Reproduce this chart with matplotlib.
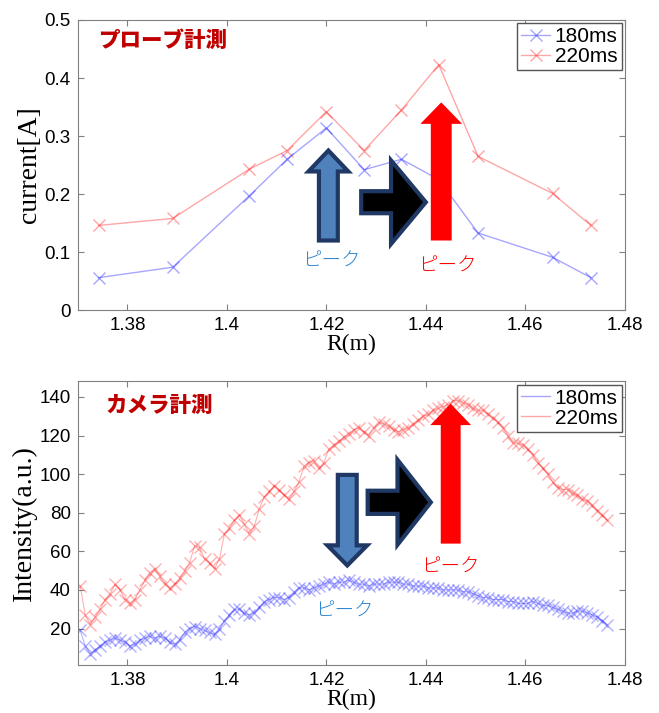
import numpy as np
import matplotlib
matplotlib.use('Agg')
import matplotlib.pyplot as plt
from matplotlib.patches import Polygon

plt.rcParams['font.family'] = ['Liberation Sans', 'DejaVu Sans']

# probe measurement
probe_r = [1.3742, 1.3891, 1.4045, 1.4121, 1.4200, 1.4276, 1.4351, 1.4426, 1.4505, 1.4655, 1.4732]
probe_180 = [0.056, 0.074, 0.197, 0.260, 0.314, 0.242, 0.260, 0.225, 0.133, 0.091, 0.056]
probe_220 = [0.146, 0.158, 0.243, 0.275, 0.342, 0.275, 0.345, 0.423, 0.265, 0.201, 0.146]

# camera measurement
cam_180 = [19, 11, 7, 9, 11, 13, 14, 15, 14, 13,
           11, 12, 14, 15, 16, 15, 16, 15, 13, 12,
           14, 18, 20, 21, 20, 19, 18, 17, 20, 24,
           27, 30, 30, 28, 27, 28, 31, 34, 35, 36,
           36, 35, 36, 39, 41, 41, 40, 41, 42, 43,
           44, 43, 44, 44, 45, 44, 43, 43, 42, 43,
           43, 43, 44, 44, 44, 43, 43, 42, 42, 42,
           41, 41, 41, 40, 40, 40, 40, 39, 39, 38,
           37, 36, 36, 35, 35, 35, 34, 34, 33, 33,
           33, 34, 33, 32, 32, 31, 30, 29, 28, 28,
           29, 29, 28, 27, 26, 24, 22]
cam_220 = [42, 27, 22, 26, 30, 35, 38, 43, 40, 35,
           33, 35, 40, 45, 49, 51, 47, 43, 41, 43,
           46, 50, 54, 63, 62, 56, 54, 51, 56, 69,
           72, 76, 79, 74, 69, 73, 82, 88, 91, 94,
           92, 89, 87, 91, 96, 104, 106, 107, 103, 106,
           113, 115, 117, 119, 121, 123, 124, 122, 120, 124,
           127, 126, 125, 123, 122, 123, 124, 126, 128, 130,
           131, 133, 134, 135, 136, 138, 138, 137, 136, 134,
           133, 133, 131, 129, 127, 124, 120, 116, 116, 115,
           113, 110, 106, 103, 100, 96, 93, 92, 92, 90,
           89, 87, 86, 84, 81, 79, 76]
cam_r = np.linspace(1.3705, 1.4765, len(cam_180))

series_labels = ['180ms', '220ms']
navy = '#1F3864'


def vertical_arrow(ax, xc, y_tail, y_head, y_tip, shaft_hw, head_hw, **kw):
    pts = [(xc - shaft_hw, y_tail), (xc - shaft_hw, y_head), (xc - head_hw, y_head),
           (xc, y_tip), (xc + head_hw, y_head), (xc + shaft_hw, y_head),
           (xc + shaft_hw, y_tail)]
    ax.add_patch(Polygon(pts, closed=True, zorder=5, **kw))


def right_arrow(ax, x_tail, x_head, x_tip, yc, shaft_hh, head_hh, **kw):
    pts = [(x_tail, yc - shaft_hh), (x_head, yc - shaft_hh), (x_head, yc - head_hh),
           (x_tip, yc), (x_head, yc + head_hh), (x_head, yc + shaft_hh),
           (x_tail, yc + shaft_hh)]
    ax.add_patch(Polygon(pts, closed=True, zorder=5, **kw))


def style_axes(ax):
    for s in ax.spines.values():
        s.set_color('#808080')
    ax.tick_params(direction='in', length=4, color='#808080', labelsize=13.5,
                   top=True, right=True, pad=5)
    ax.set_xlim(1.37, 1.48)
    ax.set_xticks([1.38, 1.40, 1.42, 1.44, 1.46, 1.48])
    ax.set_xticklabels(['1.38', '1.4', '1.42', '1.44', '1.46', '1.48'])
    ax.set_xlabel('R(m)', family='Liberation Serif', fontsize=17, labelpad=0)


def add_legend(ax, handles=None):
    kw = dict(loc='upper right', fontsize=15, fancybox=False, framealpha=1,
              edgecolor='#555555', borderaxespad=0.15, handlelength=1.4,
              handletextpad=0.2, borderpad=0.2, labelspacing=0.05)
    if handles is None:
        ax.legend(**kw)
    else:
        ax.legend(handles, series_labels, **kw)


fig = plt.figure(figsize=(6.59, 7.13), dpi=100)

# ---- top: probe
ax1 = fig.add_axes([0.118, 0.565, 0.830, 0.407])
ax1.plot(probe_r, probe_180, color='blue', alpha=0.35, marker='x', markersize=8, lw=1,
         label=series_labels[0])
ax1.plot(probe_r, probe_220, color='red', alpha=0.35, marker='x', markersize=8, lw=1,
         label=series_labels[1])
style_axes(ax1)
ax1.set_ylim(0, 0.5)
ax1.set_yticks([0, 0.1, 0.2, 0.3, 0.4, 0.5])
ax1.set_yticklabels(['0', '0.1', '0.2', '0.3', '0.4', '0.5'])
ax1.set_ylabel('current[A]', family='Liberation Serif', fontsize=20, labelpad=2)
add_legend(ax1)
ax1.text(0.038, 0.928, 'プローブ計測', transform=ax1.transAxes, color='#C00000',
         fontsize=15.5, fontweight='black', family='Noto Sans CJK JP', va='center')

vertical_arrow(ax1, 1.4204, 0.120, 0.239, 0.275, 0.0019, 0.0040,
               facecolor='#4F81BD', edgecolor=navy, lw=3)
right_arrow(ax1, 1.4270, 1.4330, 1.4400, 0.186, 0.019, 0.072,
            facecolor='black', edgecolor=navy, lw=3)
vertical_arrow(ax1, 1.4431, 0.120, 0.321, 0.358, 0.0021, 0.0042,
               facecolor='red', edgecolor='none')
ax1.text(1.4210, 0.084, 'ピーク', color='#2E86D0', fontsize=14,
         family='Noto Sans CJK JP', fontweight='light', ha='center', va='center')
ax1.text(1.4443, 0.076, 'ピーク', color='red', fontsize=14,
         family='Noto Sans CJK JP', fontweight='light', ha='center', va='center')

# ---- bottom: camera
ax2 = fig.add_axes([0.118, 0.067, 0.830, 0.398])
ax2.plot(cam_r, cam_180, color='blue', alpha=0.3, marker='x', markersize=8, lw=0.8,
         label=series_labels[0])
ax2.plot(cam_r, cam_220, color='red', alpha=0.3, marker='x', markersize=8, lw=0.8,
         label=series_labels[1])
style_axes(ax2)
ax2.set_ylim(1, 148)
ax2.set_yticks([20, 40, 60, 80, 100, 120, 140])
ax2.set_ylabel('Intensity(a.u.)', family='Liberation Serif', fontsize=20, labelpad=2)
handles = [plt.Line2D([], [], color='blue', alpha=0.35, lw=1),
           plt.Line2D([], [], color='red', alpha=0.35, lw=1)]
add_legend(ax2, handles)
ax2.text(0.05, 0.915, 'カメラ計測', transform=ax2.transAxes, color='#C00000',
         fontsize=15.5, fontweight='black', family='Noto Sans CJK JP', va='center')

vertical_arrow(ax2, 1.4242, 99.6, 63.1, 52.7, 0.0019, 0.0040,
               facecolor='#4F81BD', edgecolor=navy, lw=3)
right_arrow(ax2, 1.4283, 1.4343, 1.4410, 85.4, 6.0, 22.0,
            facecolor='black', edgecolor=navy, lw=3)
vertical_arrow(ax2, 1.4450, 64, 125.4, 136.5, 0.0020, 0.0041,
               facecolor='red', edgecolor='none')
ax2.text(1.4450, 52, 'ピーク', color='red', fontsize=14,
         family='Noto Sans CJK JP', fontweight='light', ha='center', va='center')
ax2.text(1.4237, 29, 'ピーク', color='#2E86D0', fontsize=14,
         family='Noto Sans CJK JP', fontweight='light', ha='center', va='center')

fig.savefig('out.png', dpi=100)
